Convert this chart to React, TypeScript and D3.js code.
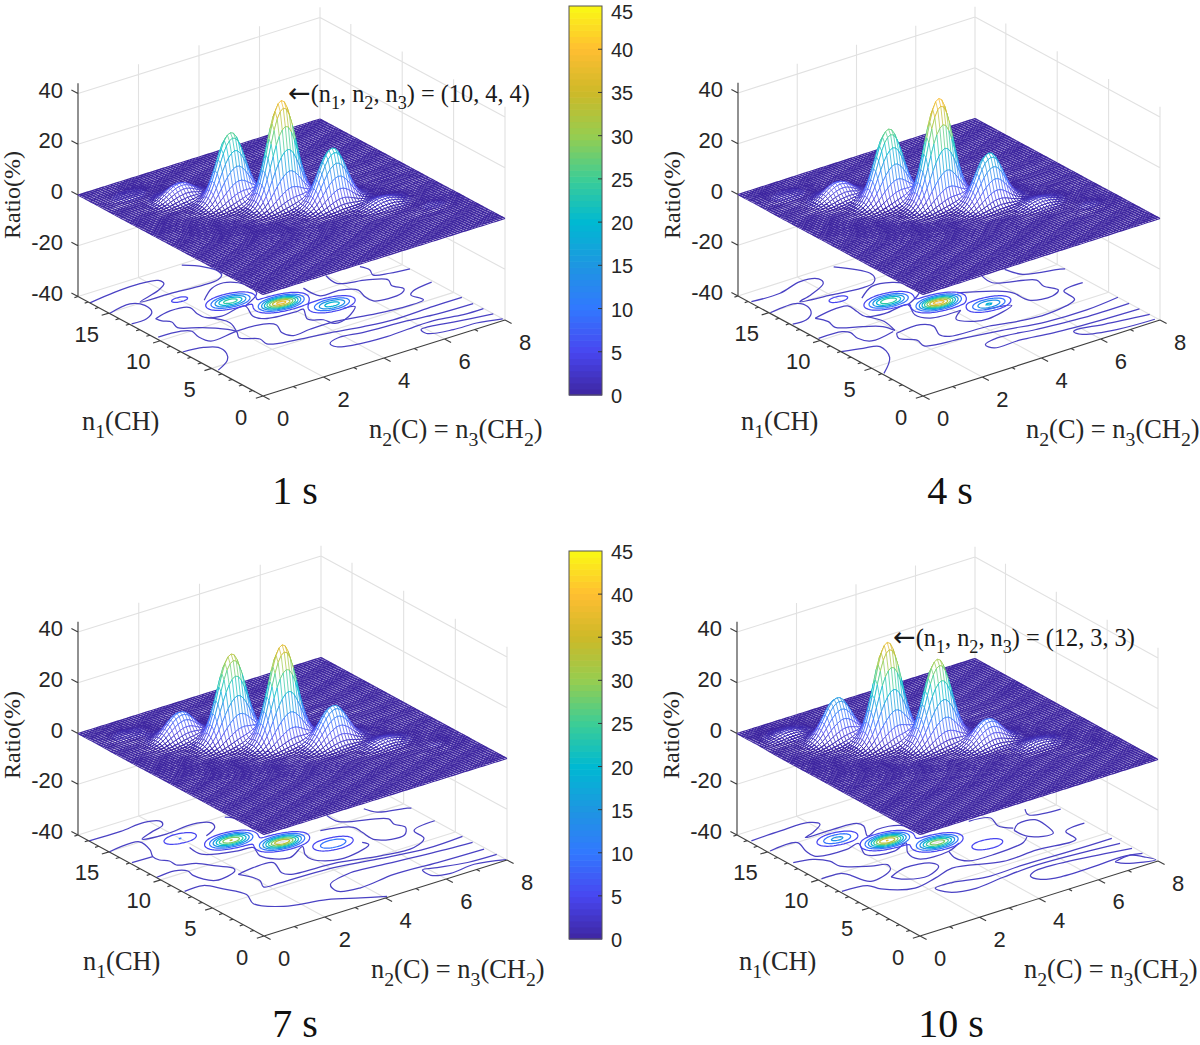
import React, { useMemo } from "react";
import * as d3 from "d3";

// ---- data -----------------------------------------------------------------
const ratioTicks = [-40, -20, 0, 20, 40];
const n1Ticks = [0, 5, 10, 15];
const n2Ticks = [0, 2, 4, 6, 8];
const colorbarTicks = [0, 5, 10, 15, 20, 25, 30, 35, 40, 45];
const colorStops = [0, 5, 10, 15, 20, 25, 30, 35, 40, 45];
const colorValues = ["#3e26a0", "#4846f0", "#3278ff", "#1e96e1", "#00b9d2", "#3ccd96", "#96cd50", "#cdb928", "#ffbe32", "#faf914"];

// composition lattice of the peaks (n1 + 2 n2 = 20)
const peakN1 = [16, 14, 12, 10, 8, 6, 4];
const peakN2 = [1, 2, 3, 4, 5, 6, 7];
const ratio1s = [0.8, 6, 26.7, 40, 21.8, 3, 0.5];
const ratio4s = [0.8, 6.4, 28, 40.7, 19.8, 2.7, 0.5];
const ratio7s = [0.8, 10, 33.7, 38, 14.7, 2.5, 0.4];
const ratio10s = [2, 15.8, 38.4, 32.5, 9.6, 2, 0.3];

// lowest floor contour lines, as [n2, n1] pairs
const lines1s: number[][][] = [
  [[0,16.84],[.94,17.17],[1.79,17.24],[2.3,16.96],[2.29,16.38],[1.92,15.82],[1.08,15.14],[2.03,15.03],[3.05,14.8],[3.59,14.91],[3.83,15.29],[3.91,15.87],[3.77,16.89],[3.38,17.85]],
  [[0,14.93],[.8,15.3],[1.05,14.58],[.94,13.58],[.57,13],[.06,12.96]],
  [[.76,12.68],[1.36,13.05],[1.91,12.72],[1.82,11.79],[1.84,11.04],[2.24,10.61],[3.12,10.92],[2.89,9.51],[3.04,8.76],[3.98,8.44],[4.21,8.47],[3.91,7.19],[4.22,6.54],[4.32,5.71],[4.86,5.99],[5.39,6.9],[5.08,7.12]],
  [[1.84,11.04],[2.15,9.55],[1.94,8.28]],
  [[2.49,13.05],[3.1,14.12],[3.57,14.35],[3.88,13.82],[3.97,12.95],[3.85,11.95],[3.12,10.92]],
  [[5.03,10.87],[5.08,9.4],[5.72,9.33],[6.1,8.68],[5.98,7.68],[5.99,6.9],[6.88,6.76],[7.1,7.18],[6.97,8],[7.12,8.76],[6.67,9.53],[5.91,10.22],[5.98,11.47]],
  [[7.04,11.29],[7.12,10.56],[6.99,9.89],[7.41,9.47],[8,9.25]],
  [[.1,10.49],[.78,10.37],[1.03,9.95],[.95,9.08],[1.04,8.14],[1.97,8.35],[2.8,8.21],[3.04,7.63],[2.85,6.57],[2.98,5.81],[3.57,5.94],[4.24,5.96],[5.38,5.42],[6.27,5.11],[7.08,5.23],[7.01,6.25],[7.22,6.62],[7.94,6.96]],
  [[.76,12.68],[.8,12.2],[.97,11.73],[.87,10.88],[1.34,10.08],[1.69,9.32],[1.94,8.28],[1.76,7.51],[2.15,6.62],[2.1,5.81],[2.88,5.21],[3.85,4.82],[4.79,4.32],[5.67,4.02],[7.03,4.12],[7.98,4.14]],
  [[.03,7.91],[.64,7.68],[.95,7.15],[.89,6.16],[.65,5.38],[.07,4.56]],
  [[7.97,3.01],[6.8,3.12],[5.91,3.42],[4.57,3.67],[3.83,3.95],[3.44,3.6],[3.45,2.98],[3.86,2.58],[4.89,2.34],[6.04,2.5],[6.58,2.48],[7.34,2.1],[7.99,2.07]],
  [[7.99,1.11],[6.84,1.62],[6.19,1.96],[5.87,1.9],[5.84,1.27],[6.55,.75],[7.29,.68],[8,.22]],
];
const lines4s: number[][][] = [
  [[.06,16.87],[1,16.79],[1.88,17.38],[2.38,17.01],[2.31,16.36],[1.58,15.48],[1.09,15.12],[2.02,14.75],[2.93,14.42],[3.37,14.56],[3.6,15.07],[3.69,15.82],[3.17,17.83]],
  [[.03,14.94],[.97,15.02],[1.06,14.28],[.87,13.39],[.5,12.82],[.06,12.85]],
  [[.76,12.68],[1.3,12.97],[1.94,12.91],[1.91,11.93],[1.9,11.06],[2.46,10.7],[3.26,10.86],[3.01,9.47],[3.21,8.54],[4.16,8.32]],
  [[4.16,8.32],[3.72,7.51],[4.02,6.57],[4.4,6.35],[5.43,7.01],[4.69,7.53]],
  [[1.9,11.06],[2.1,9.81],[1.97,8.42]],
  [[2.54,13.27],[3.21,14.24],[3.8,13.96],[4.07,13.08],[4.03,11.96],[3.26,10.86]],
  [[4.76,10.42],[5.66,9.2],[5.95,8.4],[6,7.01],[6.66,6.6],[7.02,7.07],[6.86,8.06],[6.95,8.98],[5.91,10.28],[5.95,11.4]],
  [[6.69,11.34],[6.88,10.14],[7.87,9.36],[7.99,9.2]],
  [[.05,10.3],[.81,10.2],[.95,9.78],[.88,8.89],[1.07,8.09],[1.9,8.37]],
  [[.76,12.68],[.91,11.83],[.83,10.94],[1.44,10.04],[1.87,9.3],[1.97,8.42]],
  [[1.9,8.05],[2.74,8.15],[2.96,7.47],[2.75,6.33],[2.9,5.78],[4.12,5.51],[4.96,4.98],[5.8,4.76],[7,5.43],[7.1,6.76],[7.83,7.03]],
  [[1.9,8.05],[1.75,7.42],[2.06,6.48],[1.99,5.63],[3.06,5.08],[4.25,4.56],[5.52,3.92],[6.84,3.79],[8,4.09]],
  [[8,3],[6.47,3.03],[5,3.42],[3.85,3.87],[3.33,3.53],[3.39,2.85],[4.23,2.81],[5.24,2.42],[6.84,2.11],[8,2]],
  [[8,1],[6.65,1.54],[5.87,1.95],[5.71,1.8],[5.79,1.19],[6.74,.48],[7.92,.27]],
  [[0,7.97],[.6,7.56],[1.03,7.14],[.81,5.58],[.06,3.97]],
];
const lines7s: number[][][] = [
  [[.01,16.95],[1.03,16.89],[1.87,17.09],[2.25,16.57],[2.15,16.13],[1.63,15.71],[1.18,15.27],[1.88,14.98],[2.82,15.18],[3.25,14.65],[3.15,14.03],[2.65,13.37]],
  [[3.75,14.82],[3.97,14.02],[3.89,12.48]],
  [[0,14.98],[1.02,15.06],[.93,13.76],[.73,12.91],[.74,12.29],[.91,11.83],[.9,11.13],[1.38,10.61],[1.7,9.6],[1.97,8.71],[1.89,8.38],[1.13,7.98],[.85,9.36],[.91,10.04],[.64,10.54],[0,10.42]],
  [[.06,12.96],[.73,12.91]],
  [[1.85,12.64],[1.84,11.46],[2.73,10.54],[3.18,10.39],[3,9.2],[3.56,7.95],[4.25,8.75],[4,7.79],[3.95,6.99],[4.55,5.98],[5.7,6.61],[5.65,7.11]],
  [[5.23,9.92],[6.05,9.12],[6.04,8.25],[6.03,6.95],[6.82,6.45],[7.14,7.29],[7.02,8.08],[7.11,8.84],[5.96,10.3],[5.95,11.41]],
  [[6.98,10.86],[7.13,10.01],[7.91,9.4],[8,9.25]],
  [[1.83,7.87],[2.4,8.11],[3.02,7.97],[2.8,6.52],[2.91,6.04],[4.35,5.72],[5.52,4.94],[6.54,4.71],[7.1,5.39],[7.19,6.61],[8,6.99]],
  [[1.83,7.87],[2.05,6.42],[1.88,5.58],[2.38,5.44],[3.88,5.32],[5.32,4.68],[6.78,4.13],[7.98,4.25]],
  [[.06,7.86],[.67,7.86],[.96,6.77],[1.23,5.3],[1.02,4.03],[1.55,2.66],[2.71,1.89],[3.48,.89],[4.1,.14]],
  [[7.96,3.21],[6.56,3.48],[5.06,3.92],[4.24,4.1],[3.37,3.48],[3.25,2.48],[3.87,2.03],[5.08,2.37],[6.45,2.17],[7.94,2.04]],
  [[8,.99],[7.08,1.11],[6.25,1.6],[5.85,1.86],[5.82,.96],[6.31,.48],[7.15,.68],[8,.07]],
];
const lines10s: number[][][] = [
  [[.08,16.82],[1.09,16.92],[2.03,16.84],[2.19,16.25],[1.71,15.56],[1.36,15.26],[2.27,15.21],[3.01,15.04],[3.06,14.49],[2.75,13.2],[3.21,13.62],[3.88,13.22],[3.95,12.08]],
  [[.09,15],[1,14.98],[.85,13.72],[.84,12.84],[1.79,12.44],[2.27,12.69],[1.99,11.2],[2.74,10.54],[3.31,11.06],[2.96,9.86],[2.95,8.8],[3.9,8.58],[4.44,9.16]],
  [[3.9,8.58],[3.78,7.57],[3.97,6.77],[4.71,6.61],[5.84,6.92],[6.12,7.4]],
  [[6.11,8.62],[6.45,9.23],[6.97,9.08],[6.99,8.13],[6.84,6.9],[6.18,7.41],[6.11,8.62]],
  [[5.49,11.27],[6.09,10.86],[5.94,9.73],[6.18,8.91]],
  [[7.17,10.65],[7.02,9.89],[7.93,9.37]],
  [[.13,12.85],[.68,12.52],[.97,11.72],[1,10.79],[1.65,9.68],[2.07,9.26],[1.94,8.59],[1.07,7.96],[.85,9.52],[.71,9.95],[.11,10.01]],
  [[1.67,7.73],[2.31,8.27],[3.08,7.86],[3.1,7.24],[2.52,6.53],[1.81,7.13],[1.67,7.73]],
  [[.06,7.86],[.83,7.6],[.99,6.73],[1.75,5.61],[2.57,6.02],[3.32,6.56],[4.67,5.48],[5.84,5.59],[7.09,5.4],[7.17,6.64],[7.89,6.92]],
  [[7.89,4.22],[6.64,4.24],[4.97,4.37],[3.7,4.3],[2.76,4.92],[2.18,4.88],[2.32,3.93],[3.05,3.41],[4.06,3.69],[5.26,3.88],[7.87,3.35]],
  [[7.93,2.35],[6.95,2.81],[5.41,3.32],[4.93,3.23],[4.69,2.86],[4.78,2.11],[5.31,1.68],[6.56,1.67],[7.39,1.77],[7.96,1.41]],
  [[7.05,1.44],[7.64,1.65],[7.86,.97],[8,.23],[7.21,.88],[7.05,1.44]],
];

const panels = [
  { title: "1 s", ratios: ratio1s, lines: lines1s, front: [263, 396], right: [505, 320], left: [78, 296.5], titleX: 295, titleY: 504, n1X: 82, n2X: 369, note: { x: 288, y: 102, text: "(10, 4, 4)" } },
  { title: "4 s", ratios: ratio4s, lines: lines4s, front: [923, 396], right: [1160, 320], left: [738, 296], titleX: 950, titleY: 504, n1X: 741, n2X: 1026 },
  { title: "7 s", ratios: ratio7s, lines: lines7s, front: [264, 936], right: [507, 860], left: [78, 835], titleX: 295, titleY: 1037, n1X: 83, n2X: 371 },
  { title: "10 s", ratios: ratio10s, lines: lines10s, front: [920, 936], right: [1158, 861], left: [737, 835], titleX: 951, titleY: 1037, n1X: 739, n2X: 1024, note: { x: 893, y: 646, text: "(12, 3, 3)" } },
];
const colorbars = [[6, 395], [551, 939]];

// ---- helpers ---------------------------------------------------------------
const N1_MAX = 18, N2_MAX = 8, Z_TOP = 44;
const color = d3.scaleLinear<string>().domain(colorStops).range(colorValues).interpolate(d3.interpolateRgb).clamp(true);
const SKIRT = 0.15, LOBE = 0.05;
function kernel(da: number, db: number) {
  const s = 1.1 * Math.abs(1.083 * da - 0.311 * db), t = 1.15 * (0.339 * da + 0.772 * db);
  return Math.exp(-2.05 * (Math.pow(s, 2.2) + t * t));
}
function surfaceValue(ratios: number[], n2: number, n1: number) {
  let v = 0;
  ratios.forEach((h, i) => {
    const da = n2 - peakN2[i], db = n1 - peakN1[i];
    v += (h * (kernel(da, db) + SKIRT * kernel(da / 1.8, db / 1.8) - LOBE * kernel(da / 2.8, db / 2.8))) / (1 + SKIRT - LOBE);
  });
  return v;
}
const serif = "'Liberation Serif', 'Times New Roman', serif";
const sans = "'Liberation Sans', Arial, sans-serif";
const INK = "#262626";

// text pieces; a piece starting with "_" is a subscript
function rich(parts: string[], size: number) {
  const shift = size * 0.3;
  return parts.map((t, i) => {
    const sub = t.startsWith("_");
    const prevSub = i > 0 && parts[i - 1].startsWith("_");
    return (
      <tspan key={i} dy={sub ? shift : prevSub ? -shift : 0} fontSize={sub ? size * 0.75 : size}>
        {sub ? t.slice(1) : t}
      </tspan>
    );
  });
}

function Panel({ p }: { p: any }) {
  const built = useMemo(() => {
    const [fx, fy] = p.front;
    const sx2 = d3.scaleLinear().domain([0, N2_MAX]).range([0, p.right[0] - fx]);
    const sy2 = d3.scaleLinear().domain([0, N2_MAX]).range([0, p.right[1] - fy]);
    const sx1 = d3.scaleLinear().domain([0, N1_MAX]).range([0, p.left[0] - fx]);
    const sy1 = d3.scaleLinear().domain([0, N1_MAX]).range([0, p.left[1] - fy]);
    const sz = d3.scaleLinear().domain([-40, 40]).range([0, -203]);
    const proj = (n2: number, n1: number, z: number): [number, number] => [fx + sx2(n2) + sx1(n1), fy + sy2(n2) + sy1(n1) + sz(z)];
    const seg = (a: [number, number], b: [number, number]) => `M${a[0].toFixed(2)},${a[1].toFixed(2)}L${b[0].toFixed(2)},${b[1].toFixed(2)}`;

    // walls and floor grid
    const grid: string[] = [];
    ratioTicks.forEach((z) => {
      grid.push(seg(proj(0, N1_MAX, z), proj(N2_MAX, N1_MAX, z)));
      grid.push(seg(proj(N2_MAX, N1_MAX, z), proj(N2_MAX, 0, z)));
    });
    n2Ticks.forEach((t) => {
      if (t > 0) grid.push(seg(proj(t, N1_MAX, -40), proj(t, N1_MAX, Z_TOP)));
      if (t > 0) grid.push(seg(proj(t, 0, -40), proj(t, N1_MAX, -40)));
    });
    [...n1Ticks, N1_MAX].forEach((t) => {
      grid.push(seg(proj(N2_MAX, t, -40), proj(N2_MAX, t, Z_TOP)));
      if (t > 0) grid.push(seg(proj(0, t, -40), proj(N2_MAX, t, -40)));
    });

    // floor rings from the surface
    const nx = 161, ny = 181;
    const values = new Array(nx * ny);
    for (let j = 0; j < ny; j++) for (let i = 0; i < nx; i++) values[j * nx + i] = surfaceValue(p.ratios, i * 0.05, j * 0.1);
    const levels = d3.range(5, 45, 4.7);
    const rings = d3.contours().size([nx, ny]).thresholds(levels)(values).map((c) => {
      const d = c.coordinates.map((poly) => poly.map((ring) => {
        const pts = ring.map(([x, y]) => proj((x - 0.5) * 0.05, (y - 0.5) * 0.1, -40));
        return "M" + pts.map((q) => q[0].toFixed(2) + "," + q[1].toFixed(2)).join("L") + "Z";
      }).join("")).join("");
      return { d, stroke: color(c.value) };
    });

    const lineGen = d3.line().curve(d3.curveCatmullRom.alpha(0.5));
    const wiggles = p.lines.map((pts: number[][]) => lineGen(pts.map(([a, b]) => proj(a, b, -40))) as string);

    // mesh: painted strip by strip from the back corner to the front
    const stepA = 0.1, stepB = 0.2;
    const aVals = d3.range(0, N2_MAX + 1e-6, stepA);
    const bVals = d3.range(0, N1_MAX + 1e-6, stepB);
    const Z = bVals.map((b) => aVals.map((a) => surfaceValue(p.ratios, a, b)));
    const P = bVals.map((b, j) => aVals.map((a, i) => proj(a, b, Z[j][i])));
    const bin = (z: number) => Math.round(Math.max(0, z) / 0.7);
    const widths = [1.2, 1.1, 1.0, 0.92, 0.85, 0.78];
    const strips: { fill: string; strokes: { c: string; d: string; w: number }[] }[] = [];
    for (let j = bVals.length - 2; j >= 0; j--) {
      const near = P[j], far = P[j + 1];
      const fill = "M" + near.map((q) => q[0].toFixed(2) + "," + q[1].toFixed(2)).join("L") + "L" + far.slice().reverse().map((q) => q[0].toFixed(2) + "," + q[1].toFixed(2)).join("L") + "Z";
      const groups = new Map<number, string[]>();
      const add = (k: number, s: string) => { if (!groups.has(k)) groups.set(k, []); groups.get(k)!.push(s); };
      for (let i = 0; i < aVals.length; i++) {
        add(bin((Z[j][i] + Z[j + 1][i]) / 2), seg(near[i], far[i]));
        if (i < aVals.length - 1) {
          add(bin((Z[j][i] + Z[j][i + 1]) / 2), seg(near[i], near[i + 1]));
          add(bin((Z[j + 1][i] + Z[j + 1][i + 1]) / 2), seg(far[i], far[i + 1]));
        }
      }
      strips.push({ fill, strokes: Array.from(groups, ([k, v]) => ({ c: color(k * 0.7), d: v.join(""), w: k < widths.length ? widths[k] : 0.72 })) });
    }
    return { proj, seg, grid: grid.join(""), rings, wiggles, strips };
  }, [p]);

  const { proj, seg } = built;
  const [lx] = p.left;
  const u2: [number, number] = [-0.955, 0.297];
  const u1: [number, number] = [0.88, 0.475];
  const tick = (o: [number, number], u: [number, number], len: number) => seg(o, [o[0] + u[0] * len, o[1] + u[1] * len]);
  const axisLines = [
    seg(proj(0, N1_MAX, -40), proj(0, N1_MAX, Z_TOP)),
    seg(proj(0, 0, -40), proj(0, N1_MAX, -40)),
    seg(proj(0, 0, -40), proj(N2_MAX, 0, -40)),
  ];
  ratioTicks.forEach((z) => axisLines.push(tick(proj(0, N1_MAX, z), [-0.88, -0.475], 7.5)));
  d3.range(0, N1_MAX + 1).forEach((t) => axisLines.push(tick(proj(0, t, -40), u2, n1Ticks.includes(t) ? 7.5 : 3.75)));
  d3.range(0, N2_MAX + 1).forEach((t) => axisLines.push(tick(proj(t, 0, -40), u1, n2Ticks.includes(t) ? 7.5 : 3.75)));

  const [, fy] = p.front;
  return (
    <g>
      <path d={built.grid} fill="none" stroke="#e1e1e1" strokeWidth={1.1} />
      <g fill="none" strokeWidth={1.25}>
        {built.wiggles.map((d: string, i: number) => <path key={i} d={d} stroke="#4a42c4" />)}
        {built.rings.map((r, i) => <path key={i} d={r.d} stroke={r.stroke} />)}
      </g>
      <path d={axisLines.join("")} fill="none" stroke="#404040" strokeWidth={1.15} />
      <g>
        {built.strips.map((s, i) => (
          <g key={i}>
            <path d={s.fill} fill="#fff" stroke="none" />
            {s.strokes.map((k, m) => <path key={m} d={k.d} fill="none" stroke={k.c} strokeWidth={k.w} />)}
          </g>
        ))}
      </g>
      <g fontFamily={sans} fontSize={22} fill={INK}>
        {ratioTicks.map((z) => {
          const q = proj(0, N1_MAX, z);
          return <text key={z} x={lx - 15} y={q[1] - 3.5} textAnchor="end" dominantBaseline="central">{z}</text>;
        })}
        {n1Ticks.map((t) => {
          const q = proj(0, t, -40);
          return <text key={t} x={q[0] - 22} y={q[1] + 21} textAnchor="middle" dominantBaseline="central">{t}</text>;
        })}
        {n2Ticks.map((t) => {
          const q = proj(t, 0, -40);
          return <text key={t} x={q[0] + 20} y={q[1] + 22} textAnchor="middle" dominantBaseline="central">{t}</text>;
        })}
      </g>
      <g fontFamily={serif} fill={INK}>
        <text transform={`translate(${lx - 58},${fy - 201}) rotate(-90)`} fontSize={24} textAnchor="middle">Ratio(%)</text>
        <text x={p.n1X} y={fy + 34} fontSize={26.4}>{rich(["n", "_1", "(CH)"], 26.4)}</text>
        <text x={p.n2X} y={fy + 42} fontSize={26.4}>{rich(["n", "_2", "(C) = n", "_3", "(CH", "_2", ")"], 26.4)}</text>
      </g>
      <text x={p.titleX} y={p.titleY} fontFamily={serif} fontSize={40} textAnchor="middle" fill="#111">{p.title}</text>
      {p.note && (
        <text x={p.note.x} y={p.note.y} fontFamily={serif} fontSize={24.3} fill="#1a1a1a">
          <tspan fontFamily="'DejaVu Sans'" fontSize={27}>{"\u2190"}</tspan>
          {rich(["(n", "_1", ", n", "_2", ", n", "_3", ") = " + p.note.text], 24.3)}
        </text>
      )}
    </g>
  );
}

function Colorbar({ top, bottom }: { top: number; bottom: number }) {
  const y = d3.scaleLinear().domain([0, 45]).range([bottom, top]);
  const steps = d3.range(0, 64);
  const x0 = 569, x1 = 602;
  return (
    <g>
      {steps.map((i) => {
        const v0 = (i * 45) / 64, v1 = ((i + 1) * 45) / 64;
        return <rect key={i} x={x0} width={x1 - x0} y={y(v1)} height={y(v0) - y(v1) + 0.6} fill={color((v0 + v1) / 2)} />;
      })}
      <rect x={x0} y={top} width={x1 - x0} height={bottom - top} fill="none" stroke="#555" strokeWidth={1} />
      {colorbarTicks.map((t) => (
        <g key={t}>
          {t > 0 && t < 45 && <line x1={x1 - 4} x2={x1} y1={y(t)} y2={y(t)} stroke="#333" strokeWidth={1} />}
          <text x={611} y={Math.max(y(t) + 1, 12)} dominantBaseline="central" fontFamily={sans} fontSize={20} fill={INK}>{t}</text>
        </g>
      ))}
    </g>
  );
}

export default function App() {
  return (
    <svg width={1200} height={1045} viewBox="0 0 1200 1045" style={{ position: "absolute", left: 0, top: 0, background: "#fff" }}>
      {panels.map((p) => <Panel key={p.title} p={p} />)}
      {colorbars.map(([t, b]) => <Colorbar key={t} top={t} bottom={b} />)}
    </svg>
  );
}
